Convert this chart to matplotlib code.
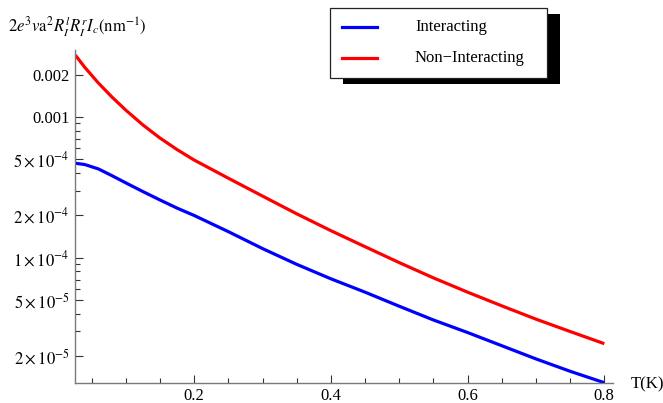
import matplotlib
matplotlib.use("Agg")
import matplotlib.pyplot as plt
from matplotlib.patches import Rectangle
from matplotlib.lines import Line2D
from matplotlib.ticker import FixedLocator, NullFormatter

plt.rcParams['font.family'] = ['Liberation Serif', 'DejaVu Serif']
plt.rcParams['mathtext.fontset'] = 'stix'

# Data
T = [0.026, 0.04, 0.06, 0.08, 0.1, 0.125, 0.15, 0.175, 0.2, 0.25, 0.3, 0.35,
     0.4, 0.45, 0.5, 0.55, 0.6, 0.65, 0.7, 0.75, 0.8]
interacting = [4.69e-4, 4.59e-4, 4.27e-4, 3.82e-4, 3.40e-4, 2.95e-4, 2.57e-4,
               2.25e-4, 1.995e-4, 1.531e-4, 1.161e-4, 8.97e-5, 7.08e-5,
               5.69e-5, 4.52e-5, 3.61e-5, 2.94e-5, 2.37e-5, 1.91e-5, 1.56e-5,
               1.294e-5]
non_interacting = [2.754e-3, 2.249e-3, 1.738e-3, 1.380e-3, 1.117e-3, 8.77e-4,
                   7.08e-4, 5.86e-4, 4.94e-4, 3.67e-4, 2.74e-4, 2.05e-4,
                   1.556e-4, 1.197e-4, 9.23e-5, 7.19e-5, 5.69e-5, 4.55e-5,
                   3.66e-5, 2.99e-5, 2.45e-5]
series_names = ["Interacting", "Non\u2212Interacting"]
series_colors = ["#0000ff", "#ff0000"]

x_ticks = [0.2, 0.4, 0.6, 0.8]
x_tick_labels = ["0.2", "0.4", "0.6", "0.8"]
x_minor = [0.05, 0.1, 0.15, 0.25, 0.3, 0.35, 0.45, 0.5, 0.55, 0.65, 0.7, 0.75]
y_ticks = [2e-5, 5e-5, 1e-4, 2e-4, 5e-4, 1e-3, 2e-3]
y_tick_labels = [r"$2\times10^{-5}$", r"$5\times10^{-5}$", r"$1\times10^{-4}$",
                 r"$2\times10^{-4}$", r"$5\times10^{-4}$", "0.001", "0.002"]
y_minor = [3e-5, 4e-5, 6e-5, 7e-5, 8e-5, 9e-5, 3e-4, 4e-4, 6e-4, 7e-4, 8e-4,
           9e-4, 3e-3]

W, H = 663, 403
fig = plt.figure(figsize=(W / 100, H / 100), dpi=100)
ax = fig.add_axes([75 / W, (H - 382.7) / H, (612.5 - 75) / W, (382.7 - 50) / H])

ax.plot(T, interacting, color=series_colors[0], lw=2.3,
        solid_capstyle='butt', solid_joinstyle='round')
ax.plot(T, non_interacting, color=series_colors[1], lw=2.3,
        solid_capstyle='butt', solid_joinstyle='round')

ax.set_yscale('log')
ax.set_xlim(0.0256, 0.812)
ax.set_ylim(1.294e-5, 2.99e-3)

ax.xaxis.set_major_locator(FixedLocator(x_ticks))
ax.set_xticklabels(x_tick_labels)
ax.xaxis.set_minor_locator(FixedLocator(x_minor))
ax.yaxis.set_major_locator(FixedLocator(y_ticks))
ax.set_yticklabels(y_tick_labels)
ax.yaxis.set_minor_locator(FixedLocator(y_minor))
ax.yaxis.set_minor_formatter(NullFormatter())

for s in ['top', 'right']:
    ax.spines[s].set_visible(False)
for s in ['left', 'bottom']:
    ax.spines[s].set_color('#7a7a7a')
    ax.spines[s].set_linewidth(1.0)

ax.tick_params(which='major', direction='in', length=5.5, width=0.8, color='#333333',
               labelsize=12, pad=4)
ax.tick_params(which='minor', direction='in', length=3.5, width=0.8, color='#333333')

fig.text(8 / W, 1 - 27 / H,
         r"$2e^3 v\mathrm{a}^2 R_I^l R_I^r I_c(\mathrm{nm}^{-1})$",
         fontsize=12, ha='left', va='center')
fig.text(631 / W, 1 - 384 / H, "T(K)", fontsize=12, ha='left', va='center')

# Legend with shadow
fig.patches.append(Rectangle((343 / W, 1 - 84 / H), (560 - 343) / W, (84 - 14) / H,
                             transform=fig.transFigure, facecolor='black',
                             edgecolor='none', zorder=5))
fig.patches.append(Rectangle((330 / W, 1 - 77.5 / H), (547 - 330) / W, (77.5 - 8.3) / H,
                             transform=fig.transFigure, facecolor='white',
                             edgecolor='#222222', lw=0.9, zorder=6))
for i, (name, col) in enumerate(zip(series_names, series_colors)):
    yy = 1 - (26.7 + i * 31.6) / H
    fig.lines.append(Line2D([342 / W, 377 / W], [yy, yy], transform=fig.transFigure,
                            color=col, lw=2.3, zorder=7))
    fig.text(415 / W, yy, name, fontsize=12, ha='left', va='center', zorder=8)

fig.savefig("out.png", dpi=100)
